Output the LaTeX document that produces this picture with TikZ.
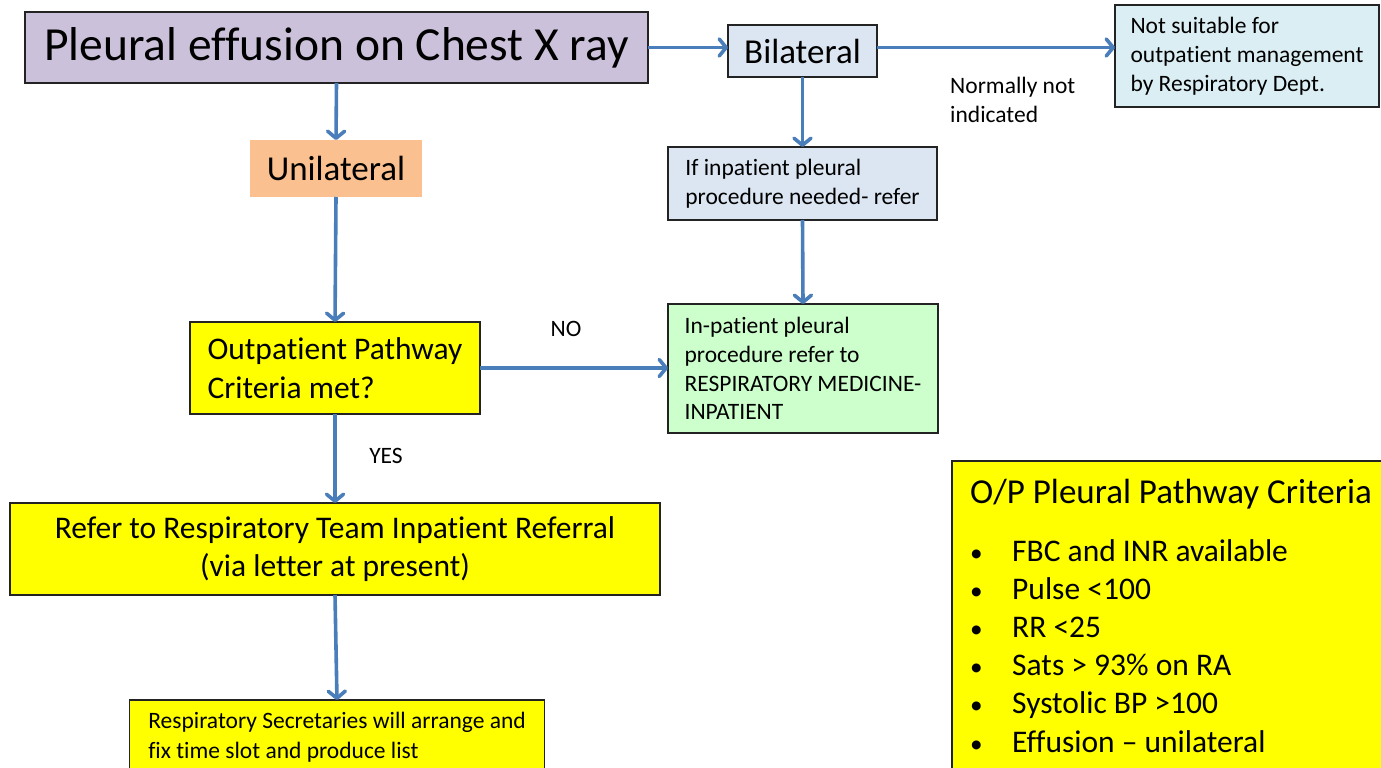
\documentclass[tikz,border=0pt]{standalone}
\usepackage{fontspec}
\setmainfont{Carlito}[Ligatures={NoCommon}]
\usetikzlibrary{arrows.meta}
\definecolor{edgegrey}{RGB}{35,35,35}
\definecolor{arrowblue}{RGB}{74,126,187}
\definecolor{lavender}{RGB}{204,193,218}
\definecolor{paleblue}{RGB}{220,230,242}
\definecolor{palecyan}{RGB}{219,238,244}
\definecolor{peach}{RGB}{250,192,144}
\definecolor{mint}{RGB}{204,255,204}
\definecolor{brightyellow}{RGB}{255,255,0}
\tikzset{
  box/.style={draw=edgegrey,line width=1.4pt,inner sep=0pt,outer sep=0pt},
  smalltext/.style={font=\fontsize{23.5}{28.8}\selectfont},
  midtext/.style={font=\fontsize{31.5}{38.5}\selectfont},
  bigtext/.style={font=\fontsize{35}{42}\selectfont},
  flow/.style={draw=arrowblue,line width=3.6pt,-{Straight Barb[length=7pt,width=17pt,round]}},
}
\begin{document}
\begin{tikzpicture}[x=1pt,y=-1pt]
\clip (0,0) rectangle (1381,768);
\node[box,fill=lavender,minimum width=623pt,minimum height=71pt,font=\fontsize{47.5}{56}\selectfont] (chestxray) at (336.5,47.5) {Pleural effusion on Chest X ray\hspace{10pt}};
\node[box,bigtext,fill=paleblue,minimum width=149pt,minimum height=52pt] (bilateral) at (802.5,51) {Bilateral};
\node[box,smalltext,fill=palecyan,align=left,minimum width=264pt,minimum height=102pt] (notsuitable) at (1247,56) {Not suitable for\\outpatient management\\by Respiratory Dept.};
\node[smalltext,align=left,anchor=base west,inner sep=0pt] (normally) at (950,122) {Normally not\\indicated};
\node[box,smalltext,fill=paleblue,align=left,minimum width=269pt,minimum height=73pt] (ifinpatient) at (802.5,183.5) {If inpatient pleural\\procedure needed- refer};
\node[box,smalltext,fill=mint,align=left,minimum width=270pt,minimum height=129pt] (inpatientresp) at (803,368.5) {In-patient pleural\\procedure refer to\\RESPIRATORY MEDICINE-\\INPATIENT};
\node[bigtext,fill=peach,minimum width=172pt,minimum height=57pt,inner sep=0pt,outer sep=0pt] (unilateral) at (336,168.5) {Unilateral};
\node[box,midtext,fill=brightyellow,align=left,minimum width=290pt,minimum height=92pt] (criteria) at (335,368) {Outpatient Pathway\\Criteria met?};
\node[smalltext] (no) at (566,329) {NO};
\node[smalltext] (yes) at (386,456) {YES};
\node[box,midtext,fill=brightyellow,align=center,minimum width=650pt,minimum height=92pt] (referteam) at (335,549) {Refer to Respiratory Team Inpatient Referral\\(via letter at present)};
\node[box,fill=brightyellow,align=left,minimum width=415pt,minimum height=74pt,font=\fontsize{23.5}{30}\selectfont] (secretaries) at (337,737) {Respiratory Secretaries will arrange and\\fix time slot and produce list};
\node[box,fill=brightyellow,minimum width=440pt,minimum height=320pt,anchor=north west] (oppanel) at (952,461) {};
\node[anchor=base west,inner sep=0pt,font=\fontsize{35}{42}\selectfont] (optitle) at (970,503) {O/P Pleural Pathway Criteria};
\foreach \txt [count=\i from 0] in {FBC and INR available,Pulse <100,RR <25,Sats > 93\% on RA,Systolic BP >100,Effusion – unilateral}
  \node[anchor=base west,inner sep=0pt,midtext] (opitem\i) at (970,{561+38.2*\i}) {\makebox[42pt][l]{\scalebox{.8}{•}}\txt};
\draw[flow] (chestxray.east) -- (chestxray.east -| bilateral.west);
\draw[flow] (chestxray.east -| bilateral.east) -- (chestxray.east -| notsuitable.west);
\draw[flow] (bilateral.south) -- (ifinpatient.north);
\draw[flow] (ifinpatient.south) -- (inpatientresp.north);
\draw[flow] (chestxray.south) -- (unilateral.north);
\draw[flow] (unilateral.south) -- (criteria.north);
\draw[flow] (criteria.east) -- (criteria.east -| inpatientresp.west);
\draw[flow] (criteria.south) -- (referteam.north);
\draw[flow] (referteam.south) -- (secretaries.north);
\end{tikzpicture}
\end{document}
